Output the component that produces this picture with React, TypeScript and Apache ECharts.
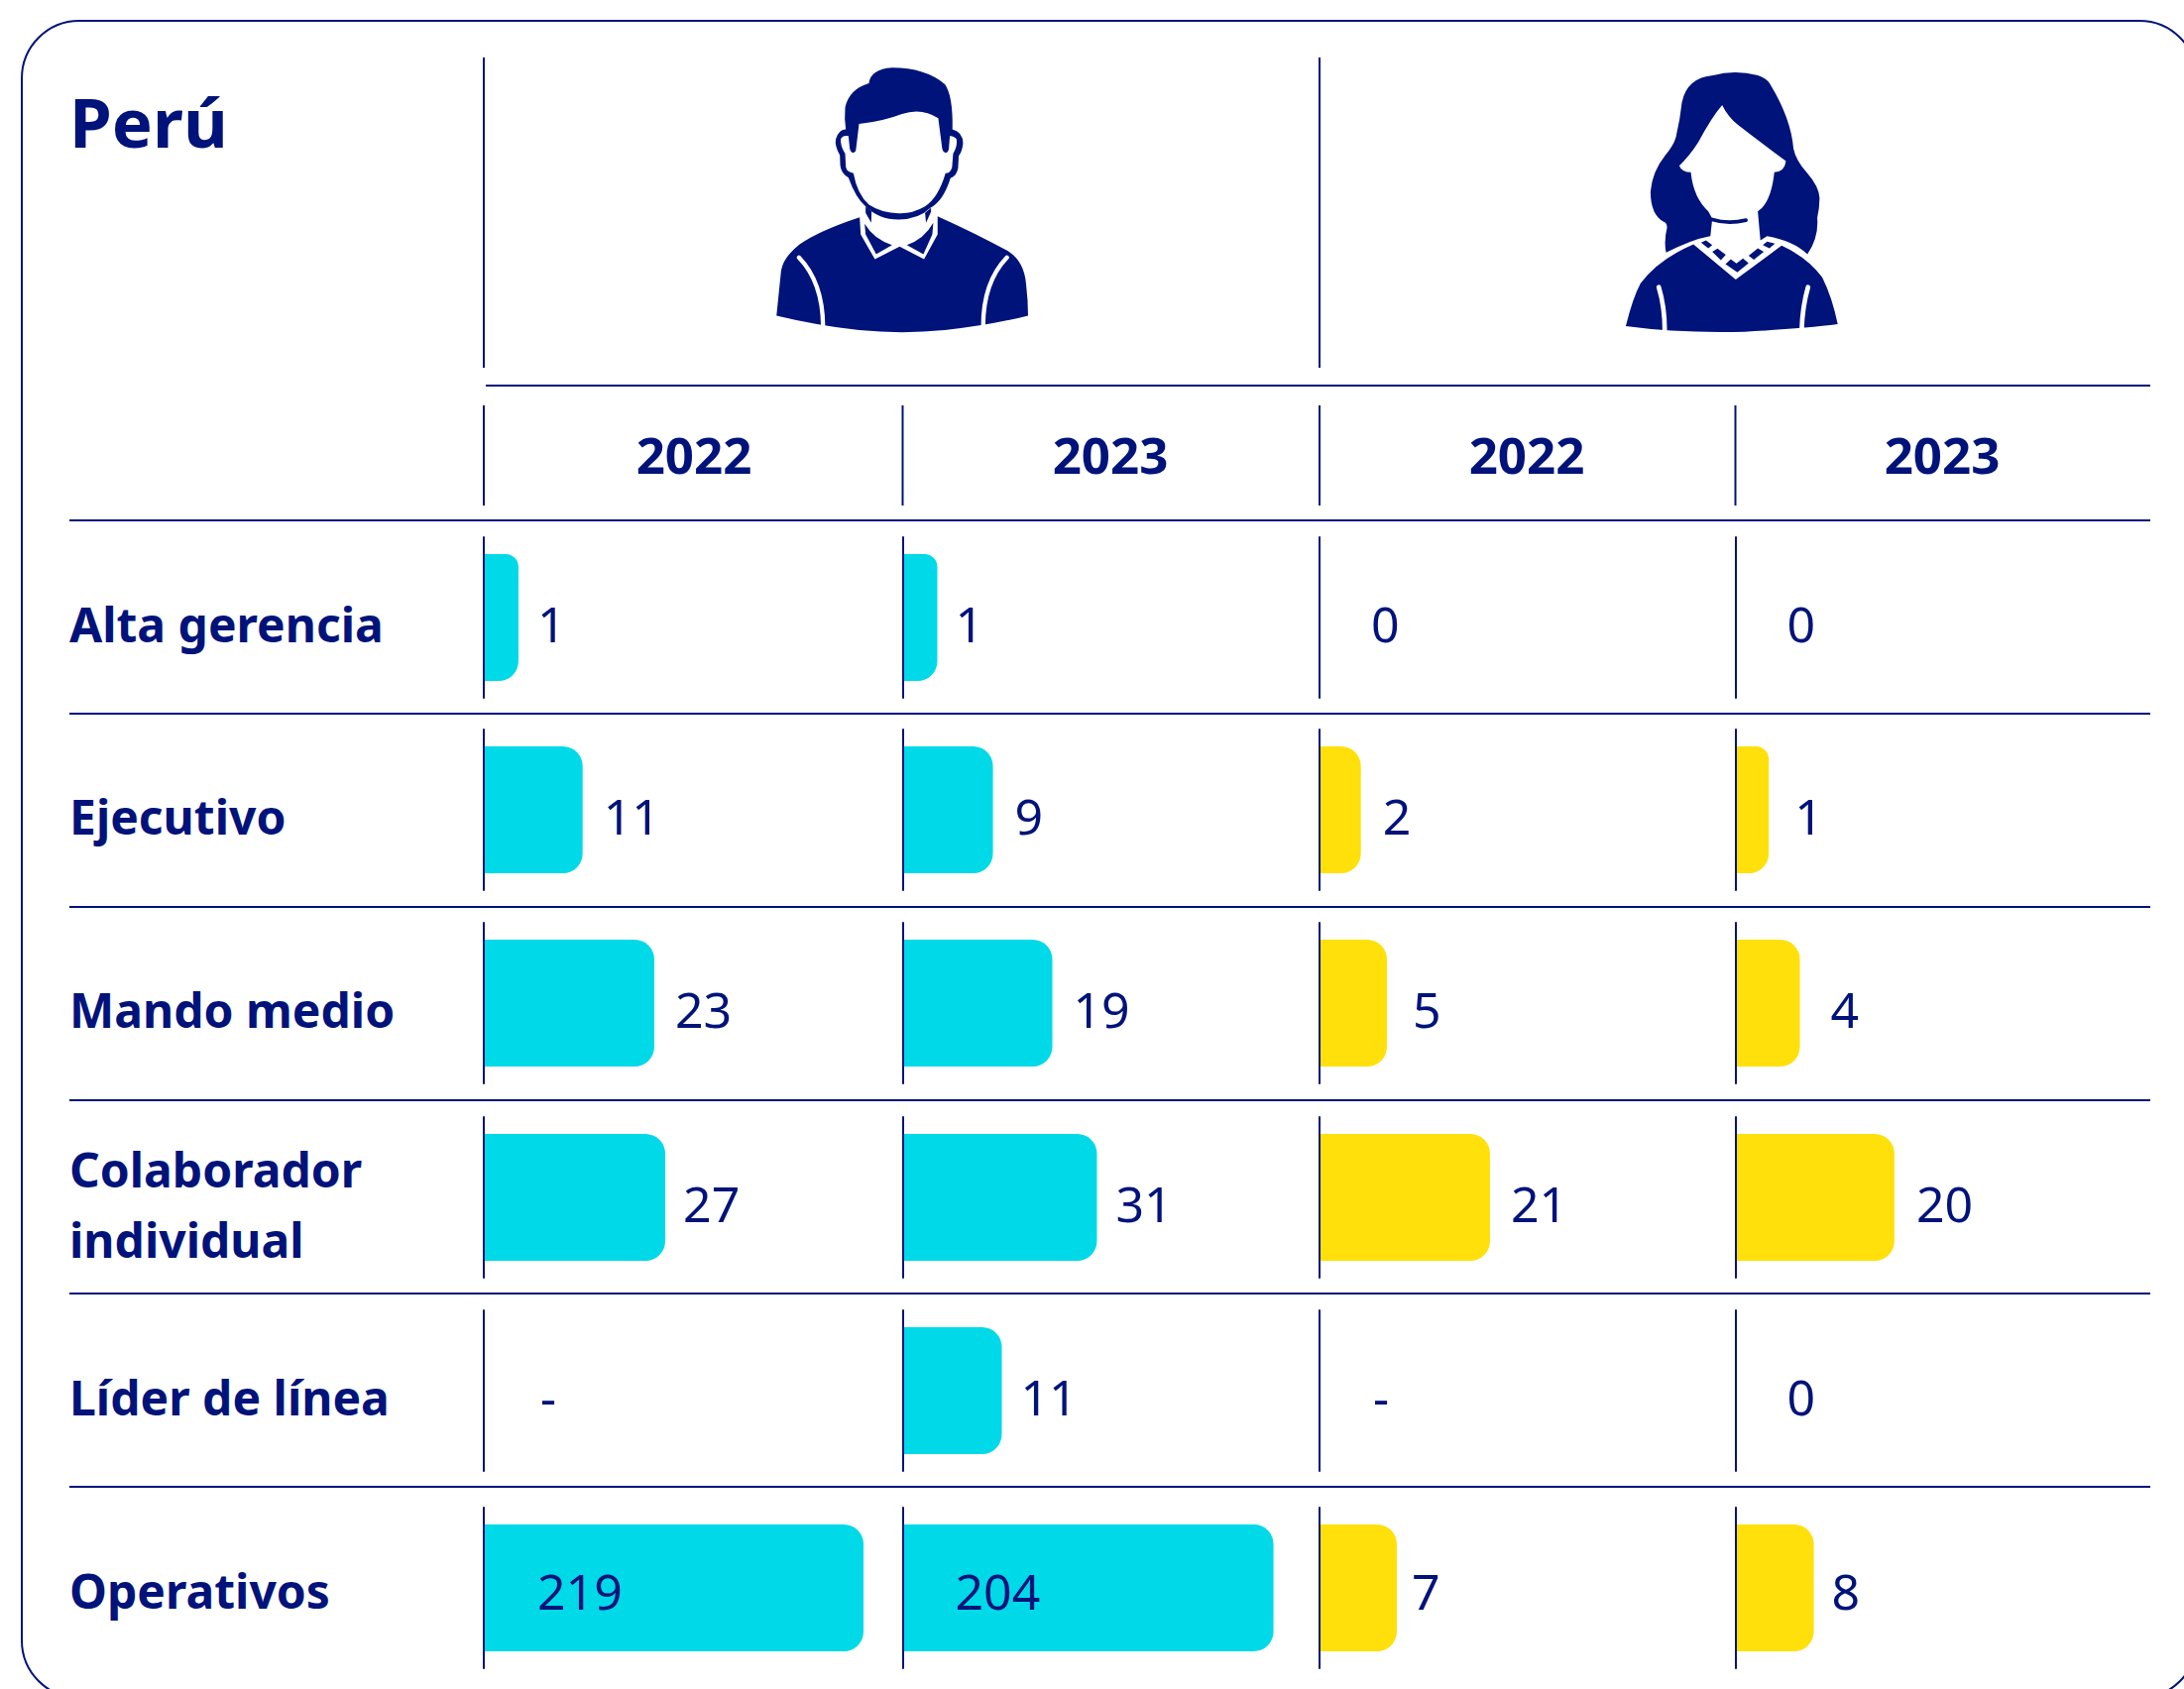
import React, { useEffect, useRef } from "react";
import * as echarts from "echarts";

// ---------- data ----------
const rowLabels = ["Alta gerencia", "Ejecutivo", "Mando medio", "Colaborador\nindividual", "Líder de línea", "Operativos"];
const yearLabels = ["2022", "2023", "2022", "2023"];
const men2022 = [1, 11, 23, 27, null, 219];
const men2023 = [1, 9, 19, 31, 11, 204];
const women2022 = [0, 2, 5, 21, null, 7];
const women2023 = [0, 1, 4, 20, 0, 8];
const columns = [men2022, men2023, women2022, women2023];

// The reference's bars are not proportional to one common scale, so every cell keeps its
// true value and gets its own axis maximum, read from the length of the bar in the picture.
const men2022AxisMax = [12.03, 46.45, 56.3, 62.1, 1, 240.7];
const men2023AxisMax = [12.03, 41.6, 52.97, 66.6, 46.3, 229.6];
const women2022AxisMax = [1, 20.2, 30.96, 51.4, 1, 37.8];
const women2023AxisMax = [1, 12.5, 25.9, 52.5, 1, 42.6];
const axisMaxes = [men2022AxisMax, men2023AxisMax, women2022AxisMax, women2023AxisMax];

// ---------- layout and style ----------
const NAVY = "#00137a";
const CYAN = "#00d9e8";
const YELLOW = "#ffe00a";
const FONT = "'Noto Sans'";
const columnLefts = [488, 910.5, 1331, 1750.5];
const columnFill = [CYAN, CYAN, YELLOW, YELLOW];
const yearCenters = [700, 1120, 1540, 1959];
const rowTops = [542, 736, 931, 1127, 1322, 1521];
const ruleYs = [525, 720, 915, 1110, 1305, 1500];
const labelOffsetsY = [6, 6, 6, 6, 6, 3];
// padding above each line of a row label, which moves the text down by half of it
const rowLabelPadTop = [12, 12, 12, 13, 12, 4];
// gap between the end of a bar (or the axis, for an empty cell) and its number
const labelGaps = [
  [19, 21, 21, 18, 57, 54],
  [18, 22, 21, 19, 19, 53],
  [52, 22, 26, 21, 54, 15],
  [52, 26, 31, 22, 52, 18],
];
const CELL_W = 421;
const CELL_H = 162;
const BAR_H = 128;

// ---------- icon shapes, traced in coordinates of a 3x crop ----------
const shapes: Record<string, string> = {
  manBody:
    "M250 836 L264 700 Q270 660 320 620 Q380 578 502 538 L505 590 L548 665 L623 627 L697 665 L738 590 L738 535 Q860 590 950 640 Q1000 670 1006 740 Q1012 790 1012 836 Q900 865 760 880 Q630 893 500 880 Q370 865 250 836 Z",
  manCollar:
    "M517 558 Q545 605 600 622 L552 650 L520 590 Z M725 555 Q697 605 645 622 L695 650 L722 590 Z M520 505 L538 520 L537 555 L520 525 Z M718 510 L700 525 L703 555 L718 522 Z",
  manHead:
    "M530 132 Q535 90 600 85 Q700 85 760 135 Q785 170 783 272 Q815 280 815 315 Q812 340 802 352 L800 390 Q795 415 777 420 Q755 490 716 510 Q680 545 620 545 Q560 545 520 505 Q490 480 468 418 Q445 405 443 380 L442 350 Q425 320 430 300 Q440 272 460 272 Q455 240 458 205 Q470 150 530 132 Z",
  manFace:
    "M500 255 Q570 248 630 225 Q690 205 740 238 L752 330 Q755 342 763 342 Q770 342 772 330 L775 292 Q785 290 795 300 Q800 320 785 345 L782 385 Q778 405 762 405 Q740 480 700 505 Q660 528 620 526 Q570 526 530 500 Q495 470 483 405 Q462 400 460 385 L458 345 Q442 320 445 300 Q452 288 468 292 L472 330 Q475 342 482 342 Q490 342 491 330 Z",
  manArms: "M318 660 Q390 735 391 868 M948 660 Q876 735 876 868",
  womanHair:
    "M505 108 Q570 90 640 108 Q670 118 680 140 Q740 240 748 330 Q755 365 790 405 Q825 445 827 480 Q827 510 820 540 Q825 600 790 650 Q750 610 668 595 L648 608 L495 595 Q440 605 362 645 Q355 610 365 570 Q365 555 355 552 Q315 530 315 460 Q320 400 360 350 Q385 320 392 295 Q405 240 410 190 Q425 115 505 108 Z",
  womanFace:
    "M532 198 Q500 235 460 310 Q435 350 402 382 Q410 402 437 402 Q445 480 490 520 L502 542 L496 598 L648 610 L640 520 Q680 495 690 402 Q722 400 725 368 Q660 320 580 258 Q550 235 532 198 Z",
  womanChin: "M502 545 Q550 560 604 547",
  womanBody:
    "M240 868 Q262 780 285 738 Q340 665 445 620 L573 727 L712 624 Q790 660 835 720 Q865 780 882 862 Q780 875 600 885 Q400 890 240 868 Z",
  womanCollar:
    "M468 615 L483 608 L502 622 L490 632 Z M502 643 L518 633 L543 652 L528 668 Z M542 680 L558 665 L575 678 L595 663 L612 677 L578 705 Z M612 655 L640 632 L658 643 L628 667 Z M655 622 L668 612 L692 618 L675 632 Z",
  womanArms: "M340 750 Q358 810 358 880 M792 750 Q775 810 773 878",
};
Object.keys(shapes).forEach((k) => {
  echarts.graphic.registerShape(k, echarts.graphic.extendPath(shapes[k], {}));
});

function icon(type: string, ox: number, oy: number, style: any) {
  return { type, x: ox, y: oy, scaleX: 1 / 3, scaleY: 1 / 3, style, silent: true };
}

function rule(x1: number, y1: number, x2: number, y2: number) {
  return {
    type: "line",
    shape: { x1, y1, x2, y2 },
    style: { stroke: NAVY, lineWidth: 2 },
    silent: true,
  };
}

const rowTextStyle = { color: NAVY, fontFamily: FONT, fontWeight: 700, fontSize: 48, lineHeight: 71 };

function buildOption() {
  const grid: any[] = [];
  const xAxis: any[] = [];
  const yAxis: any[] = [];
  const series: any[] = [];

  columns.forEach((values, c) => {
    values.forEach((v, r) => {
      const idx = grid.length;
      grid.push({ left: columnLefts[c], top: rowTops[r], width: CELL_W, height: CELL_H, containLabel: false });
      xAxis.push({ gridIndex: idx, type: "value", min: 0, max: axisMaxes[c][r], show: false });
      yAxis.push({
        gridIndex: idx,
        type: "category",
        data: [rowLabels[r]],
        z: 5,
        axisLine: { show: true, lineStyle: { color: NAVY, width: 2 } },
        axisTick: { show: false },
        splitLine: { show: false },
        axisLabel:
          c === 0
            ? {
                show: true,
                align: "left",
                margin: 418,
                ...rowTextStyle,
                formatter: (s: string) =>
                  s
                    .split("\n")
                    .map((line) => `{line|${line}}`)
                    .join("\n"),
                rich: {
                  line: { ...rowTextStyle, padding: [rowLabelPadTop[r], 0, 0, 0] },
                },
              }
            : { show: false },
      });
      const inside = (v ?? 0) > 100;
      series.push({
        type: "bar",
        xAxisIndex: idx,
        yAxisIndex: idx,
        barWidth: BAR_H,
        silent: true,
        data: [v ?? 0],
        itemStyle: {
          color: columnFill[c],
          borderRadius: v === 1 ? [0, 13, 20, 0] : [0, 20, 20, 0],
        },
        label: {
          show: true,
          position: inside ? "insideLeft" : "right",
          distance: labelGaps[c][r],
          offset: [0, labelOffsetsY[r]],
          formatter: v === null ? "-" : String(v),
          color: NAVY,
          fontFamily: FONT,
          fontSize: 50,
        },
      });
    });
  });

  const graphic: any[] = [
    {
      type: "rect",
      shape: { x: 22, y: 21, width: 2194, height: 1692, r: 58 },
      style: { fill: "none", stroke: NAVY, lineWidth: 2 },
      silent: true,
    },
    rule(488, 58, 488, 371),
    rule(1331, 58, 1331, 371),
    rule(490, 389, 2169, 389),
    ...columnLefts.map((x) => rule(x, 409, x, 510)),
    ...ruleYs.map((y) => rule(70, y, 2169, y)),
    {
      type: "text",
      x: 70,
      y: 122,
      style: { text: "Perú", fill: NAVY, fontFamily: FONT, fontWeight: 700, fontSize: 69, textAlign: "left", textVerticalAlign: "middle" },
      silent: true,
    },
    ...yearLabels.map((t, i) => ({
      type: "text",
      x: yearCenters[i],
      y: 458,
      style: { text: t, fill: NAVY, fontFamily: FONT, fontWeight: 700, fontSize: 51, textAlign: "center", textVerticalAlign: "middle" },
      silent: true,
    })),
    icon("manBody", 700, 40, { fill: NAVY }),
    icon("manCollar", 700, 40, { fill: NAVY }),
    icon("manHead", 700, 40, { fill: NAVY }),
    icon("manFace", 700, 40, { fill: "#fff" }),
    icon("manArms", 700, 40, { fill: "none", stroke: "#fff", lineWidth: 13, lineCap: "round" }),
    icon("womanHair", 1560, 40, { fill: NAVY }),
    icon("womanFace", 1560, 40, { fill: "#fff" }),
    icon("womanChin", 1560, 40, { fill: "none", stroke: NAVY, lineWidth: 11, lineCap: "round" }),
    icon("womanBody", 1560, 40, { fill: NAVY }),
    icon("womanCollar", 1560, 40, { fill: NAVY }),
    icon("womanArms", 1560, 40, { fill: "none", stroke: "#fff", lineWidth: 14, lineCap: "round" }),
  ];

  return { animation: false, backgroundColor: "#fff", grid, xAxis, yAxis, series, graphic };
}

export default function App() {
  const ref = useRef<HTMLDivElement>(null);
  useEffect(() => {
    document.body.style.margin = "0";
    document.body.style.overflow = "hidden";
    const chart = echarts.init(ref.current!, undefined, { renderer: "svg" });
    chart.setOption(buildOption() as any);
    return () => chart.dispose();
  }, []);
  return <div ref={ref} style={{ width: 2203, height: 1704 }} />;
}
